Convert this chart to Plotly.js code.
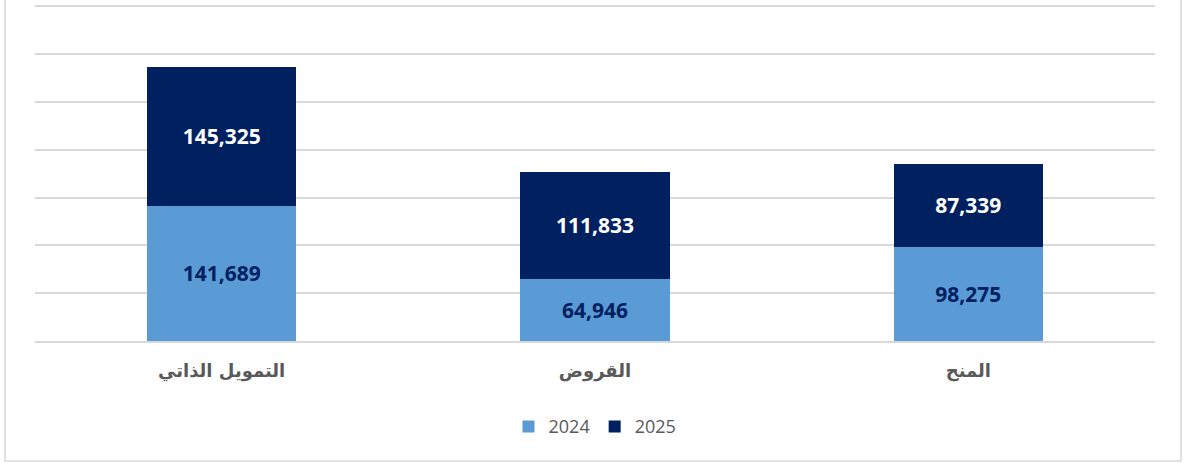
<!DOCTYPE html>
<html><head><meta charset="utf-8">
<script src="https://cdn.plot.ly/plotly-3.0.1.min.js"></script>
<style>html,body{margin:0;padding:0;background:#fff}#c{width:1186px;height:463px}</style>
</head><body><div id="c"></div>
<script>
const categories = ["التمويل الذاتي", "القروض", "المنح"];
const values2024 = [141689, 64946, 98275];
const values2025 = [145325, 111833, 87339];
const seriesNames = ["2024", "2025"];

const fmt = v => v.toLocaleString('en-US');

const traces = [
  {type:'bar', name:seriesNames[0], x:categories, y:values2024,
   marker:{color:'#5B9BD5'},
   text:values2024.map(fmt), textposition:'inside', insidetextanchor:'middle',
   textfont:{family:'Open Sans, sans-serif', size:21, color:'#002060', weight:'bold'},
   hoverinfo:'none'},
  {type:'bar', name:seriesNames[1], x:categories, y:values2025,
   marker:{color:'#002060'},
   text:values2025.map(fmt), textposition:'inside', insidetextanchor:'middle',
   textfont:{family:'Open Sans, sans-serif', size:21, color:'#ffffff', weight:'bold'},
   hoverinfo:'none'}
];

const L=35, R=1155, T=5, B=341;
const pw=R-L, ph=B-T;
const layout = {
  width:1186, height:463,
  margin:{l:L, r:1186-R, t:T, b:463-B},
  paper_bgcolor:'#fff', plot_bgcolor:'#fff',
  barmode:'stack', bargap:0.6,
  showlegend:true,
  legend:{orientation:'h', x:0.5, xanchor:'center', y:-0.2, yanchor:'top', traceorder:'normal',
          font:{family:'Open Sans, sans-serif', size:18, color:'#595959'}, itemwidth:30},
  xaxis:{tickfont:{family:'DejaVu Sans, sans-serif', size:18, color:'#595959', weight:'bold'},
         ticklabelstandoff:12,
         showline:true, linecolor:'#d9d9d9', linewidth:2, ticks:'', fixedrange:true},
  yaxis:{range:[0,351500], dtick:50000, showticklabels:false, gridcolor:'#d9d9d9', gridwidth:2,
         zeroline:false, ticks:'', fixedrange:true},
  shapes:[{type:'rect', xref:'paper', yref:'paper',
           x0:(5-L)/pw, x1:(1181-L)/pw, y0:(B-461)/ph, y1:(B+5)/ph,
           line:{color:'#d9d9d9', width:1.5}, fillcolor:'rgba(0,0,0,0)', layer:'below'}]
};
Plotly.newPlot('c', traces, layout, {staticPlot:true, displayModeBar:false});
</script></body></html>
